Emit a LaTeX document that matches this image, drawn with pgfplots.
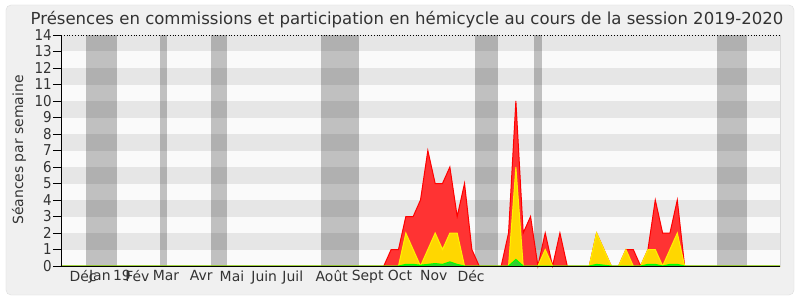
\documentclass[border=0pt]{standalone}
\usepackage{pgfplots}
\usepackage{pgfplotstable}
\pgfplotsset{compat=1.18}
\usetikzlibrary{backgrounds}
\usepackage{fontspec}
\setmainfont{DejaVu Sans}
\newfontfamily\cond{DejaVu Sans Condensed}
\definecolor{bgc}{HTML}{F0F0F0}
\definecolor{framec}{HTML}{DDDDDD}
\definecolor{textc}{HTML}{333333}
\definecolor{stripe}{HTML}{E6E6E6}
\definecolor{plotbg}{HTML}{FAFAFA}
\definecolor{redfill}{HTML}{FF3333}
\definecolor{yelfill}{HTML}{FFD700}
\definecolor{grnfill}{HTML}{33CC33}

\pgfplotstableread{
i red yellow green
0 0 0 0
44 0 0 0
45 1 0 0
46 1 0 0
47 3 2 0.1
48 3 1 0.1
49 4 0 0.05
50 7 1 0.1
51 5 2 0.15
52 5 1 0.1
53 6 2 0.25
54 3 2 0.1
55 5 0 0
56 1 0 0
57 0 0 0
60 0 0 0
61 2 0 0
62 10 6 0.4
63 2 0 0
64 3 0 0
65 0 0 0
66 2 1 0
67 0 0 0
68 2 0 0
69 0 0 0
72 0 0 0
73 2 2 0.1
74 1 1 0.05
75 0 0 0
76 0 0 0
77 1 1 0
78 1 0 0
79 0 0 0
80 1 1 0.1
81 4 1 0.1
82 2 0 0
83 2 1 0.1
84 4 2 0.1
85 0 0 0
98 0 0 0
}\data

\begin{document}
\begin{tikzpicture}
\begin{axis}[
  width=719bp, height=231bp, scale only axis,
  xmin=0, xmax=98, ymin=0, ymax=14,
  axis lines*=left,
  axis line style={black},
  axis on top,
  tick align=outside,
  xtick=\empty,
  minor xtick={0,...,98},
  minor tick length=4.5bp,
  ytick={0,...,14},
  major tick length=8bp,
  tick style={black, line width=0.8bp},
  /pgf/number format/assume math mode=true,
  yticklabel style={font=\cond\fontsize{15}{15}\selectfont, text=textc, inner sep=1bp},
  extra x ticks={3,5.3,8.3,10.4,14.3,19.1,23.3,27.7,31.6,36.9,41.8,46.2,50.8,55.9},
  extra x tick labels={Déc,Jan,19,Fév,Mar,Avr,Mai,Juin,Juil,Août,Sept,Oct,Nov,Déc},
  extra x tick style={major tick length=0pt, tick label style={font=\fontsize{14}{14}\selectfont, text=textc, yshift=-1bp}},
  clip=false,
]
\coordinate (O) at (axis cs:0,0);
\fill[plotbg] (axis cs:0,0) rectangle (axis cs:98,14);
\foreach \k in {1,3,5,7,9,11,13}{
  \edef\tmp{\noexpand\fill[stripe] (axis cs:0,\k) rectangle (axis cs:98,\k+1);}\tmp
}
\foreach \a/\b in {3.4/7.6, 13.5/14.5, 20.4/22.6, 35.4/40.6, 56.4/59.6, 64.5/65.6, 89.4/93.5}{
  \edef\tmp{\noexpand\fill[black, opacity=0.23] (axis cs:\a,0) rectangle (axis cs:\b,14);}\tmp
}
\addplot[draw=red, fill=redfill, line width=1bp] table[x=i, y=red] {\data} \closedcycle;
\addplot[draw=yellow, fill=yelfill, line width=1bp] table[x=i, y=yellow] {\data} \closedcycle;
\addplot[draw=green, fill=grnfill, line width=1bp] table[x=i, y=green] {\data} \closedcycle;
\draw[black, dotted, line width=0.8bp] (axis cs:0,14) -- (axis cs:98,14);
\draw[black!15] (axis cs:98,0) -- (axis cs:98,14);
\end{axis}
% image coords (px,py) -> tikz (px-61, 266-py) relative to O
\begin{scope}[shift={(O)}, x=1bp, y=1bp]
\node[font=\fontsize{16.6}{19}\selectfont, text=textc] at (346,246) {Présences en commissions et participation en hémicycle au cours de la session 2019-2020};
\node[rotate=90, font=\fontsize{14}{16}\selectfont, text=textc] at (-42,116) {Séances par semaine};
\begin{scope}[on background layer]
\fill[white] (-61,266) rectangle (739,-34);
\draw[fill=bgc, draw=framec, rounded corners=5bp] (-55,261) rectangle (733,-29);
\end{scope}
\end{scope}
\end{tikzpicture}
\end{document}
